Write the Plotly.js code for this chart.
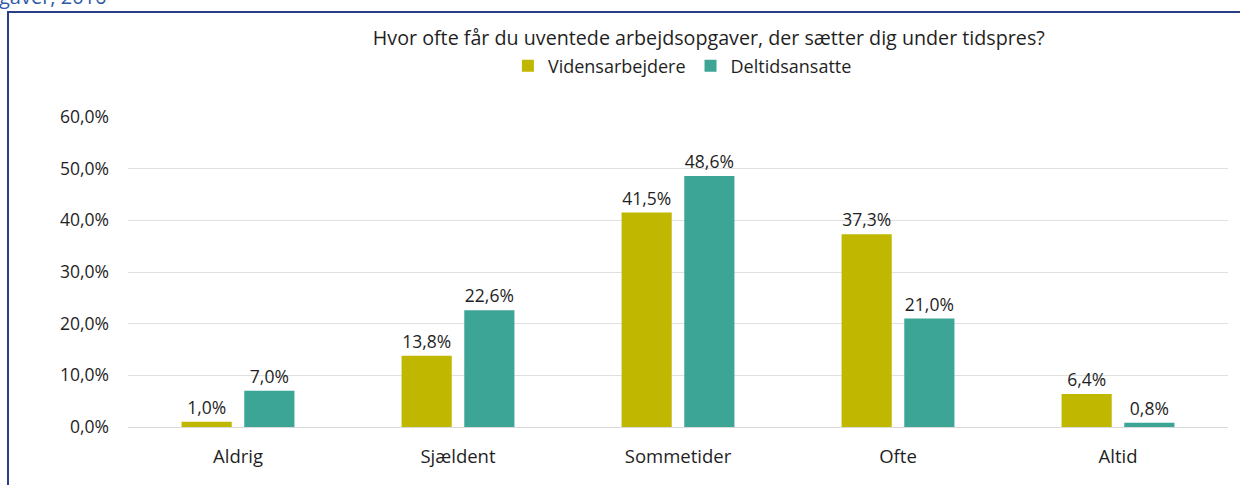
<!DOCTYPE html>
<html>
<head>
<meta charset="utf-8">
<script src="https://cdn.plot.ly/plotly-3.0.1.min.js"></script>
<style>
  html, body { margin: 0; padding: 0; background: #fff; overflow: hidden; }
  #wrap { position: relative; width: 1240px; height: 485px; }
  #chart { position: absolute; left: 0; top: 0; width: 1240px; height: 485px; }
  #frame { position: absolute; left: 7px; top: 11px; width: 1240px; height: 480px;
           border-left: 2px solid #2b3f86; border-top: 2px solid #2b3f86; pointer-events: none; }
  #cap { position: absolute; left: -1px; top: -17px; font-family: "Open Sans", sans-serif;
         font-size: 20px; color: #2f5aa8; white-space: nowrap; }
</style>
</head>
<body>
<div id="wrap">
  <div id="chart"></div>
  <div id="frame"></div>
  <div id="cap">gaver, 2016</div>
</div>
<script>
const chartTitle = "Hvor ofte får du uventede arbejdsopgaver, der sætter dig under tidspres?";
const categories = ["Aldrig", "Sjældent", "Sommetider", "Ofte", "Altid"];
const seriesNames = ["Vidensarbejdere", "Deltidsansatte"];
const videnValues = [1.0, 13.8, 41.5, 37.3, 6.4];
const deltidValues = [7.0, 22.6, 48.6, 21.0, 0.8];
const tickValues = [0, 10, 20, 30, 40, 50, 60];
const tickLabels = ["0,0%", "10,0%", "20,0%", "30,0%", "40,0%", "50,0%", "60,0%"];
const colors = ["#bfb700", "#3ca596"];

const font = "Open Sans, sans-serif";
const txt = "#1f1f1f";

const traces = [videnValues, deltidValues].map((vals, i) => ({
  type: "bar",
  name: seriesNames[i],
  x: categories,
  y: vals,
  marker: { color: colors[i] },
  texttemplate: "%{y:.1f}%",
  textposition: "outside",
  cliponaxis: false,
  textfont: { family: font, size: 17.5, color: txt },
  hoverinfo: "x+y"
}));

const layout = {
  width: 1240, height: 485,
  margin: { l: 128, r: 12, t: 117, b: 58 },
  paper_bgcolor: "rgba(0,0,0,0)",
  plot_bgcolor: "#fff",
  separators: ",.",
  font: { family: font, size: 17, color: txt },
  title: {
    text: chartTitle,
    font: { family: font, size: 19.7, color: txt },
    x: 0.528, xref: "paper", xanchor: "center",
    y: 1 - 38 / 485, yref: "container", yanchor: "middle"
  },
  barmode: "group",
  bargap: 0.43,
  bargroupgap: 0.2,
  showlegend: true,
  legend: {
    orientation: "h",
    x: 0.504, xanchor: "center",
    y: (427 - 66) / 310, yanchor: "middle",
    font: { family: font, size: 18, color: txt },
    traceorder: "normal",
    itemwidth: 30
  },
  xaxis: {
    type: "category",
    showgrid: false,
    showline: true,
    linecolor: "#d9d9d9",
    linewidth: 1,
    ticks: "",
    tickfont: { family: font, size: 18.5, color: txt },
    ticklabelstandoff: 13
  },
  yaxis: {
    range: [0, 60],
    tickmode: "array",
    tickvals: tickValues,
    ticktext: tickLabels,
    showgrid: true,
    gridcolor: "#e0e0e0",
    gridwidth: 1,
    zeroline: false,
    showline: false,
    ticks: "",
    ticklabelstandoff: 18,
    tickfont: { family: font, size: 17.5, color: txt }
  }
};

Plotly.newPlot("chart", traces, layout, { displayModeBar: false, staticPlot: true });
</script>
</body>
</html>
